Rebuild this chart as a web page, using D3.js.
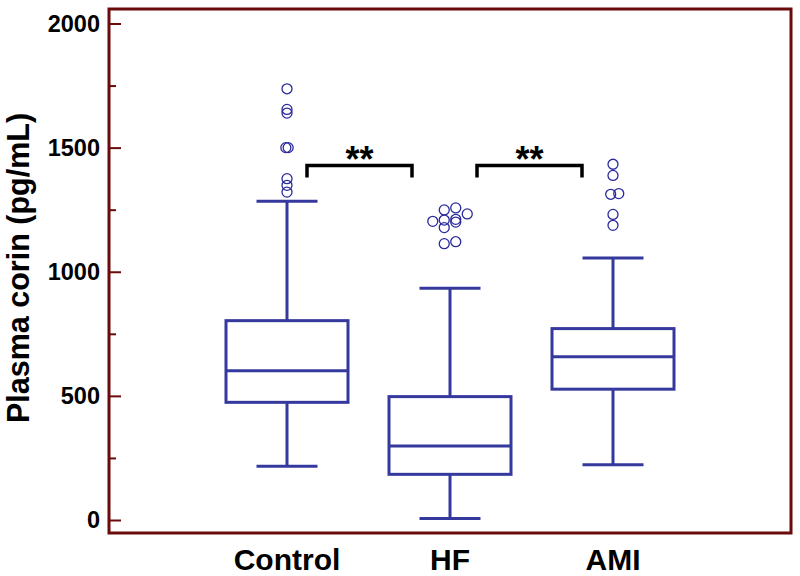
<!DOCTYPE html>
<html>
<head>
<meta charset="utf-8">
<script src="https://cdn.jsdelivr.net/npm/d3@7"></script>
<style>
  body { margin: 0; background: #fff; }
  text { font-family: "Liberation Sans", Arial, sans-serif; font-weight: bold; }
</style>
</head>
<body>
<svg id="chart" width="800" height="576"></svg>
<script>
// groups and box statistics (pg/mL)
const groups = ['Control', 'HF', 'AMI'];
const whiskerLow = [217, 6, 223];
const q1 = [474, 184, 527];
const median = [601, 298, 658];
const q3 = [803, 497, 771];
const whiskerHigh = [1284, 934, 1055];

// outliers per group, with a small horizontal jitter column for overlapping points
const outliers = [
  [1737, 1654, 1639, 1500, 1500, 1375, 1348, 1321],
  [1257, 1249, 1233, 1211, 1208, 1203, 1200, 1178, 1121, 1113],
  [1433, 1388, 1315, 1312, 1231, 1187]
];
const jitter = [
  [0, 0, 0, -0.1, 0.1, 0, 0, 0],
  [0.5, -0.5, 1.5, 0.5, -0.5, -1.5, 0.5, -0.5, 0.5, -0.5],
  [0, 0, 0.5, -0.2, 0, 0]
];

// significance brackets
const comparisons = [['Control', 'HF'], ['HF', 'AMI']];
const sigLabels = ['**', '**'];
const bracketTop = 1428;
const bracketLeg = 1380;

const yTicks = [0, 500, 1000, 1500, 2000];
const yMinor = [250, 750, 1250, 1750];

const svg = d3.select('#chart');
const boxColor = '#35389c';
const frameColor = '#6b0a0a';

const x = d3.scalePoint().domain(groups).range([287, 613]);
const y = d3.scaleLinear().domain([0, 2000]).range([520, 23.5]);
const jx = d3.scaleLinear().domain([0, 1]).range([0, 11.5]);
const boxW = 122;

// frame
svg.append('rect')
  .attr('x', 109).attr('y', 9)
  .attr('width', 682).attr('height', 524)
  .attr('fill', 'none')
  .attr('stroke', frameColor)
  .attr('stroke-width', 3);

// y axis ticks, drawn inside the frame
const yAxis = d3.axisRight(y).tickValues(yTicks).tickSize(12).tickFormat('');
const gy = svg.append('g').attr('transform', 'translate(109,0)').call(yAxis);
gy.select('.domain').remove();
gy.selectAll('line').attr('stroke', frameColor).attr('stroke-width', 2);

const gyMinor = svg.append('g').attr('transform', 'translate(109,0)')
  .call(d3.axisRight(y).tickValues(yMinor).tickSize(7).tickFormat(''));
gyMinor.select('.domain').remove();
gyMinor.selectAll('line').attr('stroke', frameColor).attr('stroke-width', 2);

svg.append('g').selectAll('text')
  .data(yTicks)
  .join('text')
  .attr('x', 100)
  .attr('y', d => y(d))
  .attr('dy', '0.36em')
  .attr('text-anchor', 'end')
  .attr('font-size', 23.5)
  .text(d => d);

// y title
svg.append('text')
  .attr('transform', 'translate(29,268) rotate(-90)')
  .attr('text-anchor', 'middle')
  .attr('font-size', 30.5)
  .text('Plasma corin (pg/mL)');

// x labels
svg.append('g').selectAll('text')
  .data(groups)
  .join('text')
  .attr('x', d => x(d))
  .attr('y', 570)
  .attr('text-anchor', 'middle')
  .attr('font-size', 30)
  .text(d => d);

// boxes
const box = svg.append('g').selectAll('g')
  .data(groups)
  .join('g')
  .attr('fill', 'none')
  .attr('stroke', boxColor)
  .attr('stroke-width', 3);

box.append('line')
  .attr('x1', d => x(d)).attr('x2', d => x(d))
  .attr('y1', (d, i) => y(whiskerHigh[i])).attr('y2', (d, i) => y(q3[i]));
box.append('line')
  .attr('x1', d => x(d)).attr('x2', d => x(d))
  .attr('y1', (d, i) => y(q1[i])).attr('y2', (d, i) => y(whiskerLow[i]));
box.append('line')
  .attr('x1', d => x(d) - boxW / 4).attr('x2', d => x(d) + boxW / 4)
  .attr('y1', (d, i) => y(whiskerHigh[i])).attr('y2', (d, i) => y(whiskerHigh[i]));
box.append('line')
  .attr('x1', d => x(d) - boxW / 4).attr('x2', d => x(d) + boxW / 4)
  .attr('y1', (d, i) => y(whiskerLow[i])).attr('y2', (d, i) => y(whiskerLow[i]));
box.append('rect')
  .attr('x', d => x(d) - boxW / 2)
  .attr('width', boxW)
  .attr('y', (d, i) => y(q3[i]))
  .attr('height', (d, i) => y(q1[i]) - y(q3[i]));
box.append('line')
  .attr('x1', d => x(d) - boxW / 2).attr('x2', d => x(d) + boxW / 2)
  .attr('y1', (d, i) => y(median[i])).attr('y2', (d, i) => y(median[i]));

// outliers
const pts = groups.flatMap((g, i) => outliers[i].map((v, k) => ({ g, v, j: jitter[i][k] })));
svg.append('g').selectAll('circle')
  .data(pts)
  .join('circle')
  .attr('cx', d => x(d.g) + jx(d.j))
  .attr('cy', d => y(d.v))
  .attr('r', 5)
  .attr('fill', 'none')
  .attr('stroke', '#2a2a9c')
  .attr('stroke-width', 1.3);

// significance brackets
const brackets = [[20, -38], [27, -31]];
comparisons.forEach((c, i) => {
  const x1 = x(c[0]) + brackets[i][0];
  const x2 = x(c[1]) + brackets[i][1];
  svg.append('path')
    .attr('d', `M${x1},${y(bracketLeg)}V${y(bracketTop)}H${x2}V${y(bracketLeg)}`)
    .attr('fill', 'none')
    .attr('stroke', '#000')
    .attr('stroke-width', 3.5);
  svg.append('text')
    .attr('x', (x1 + x2) / 2)
    .attr('y', y(bracketTop) + 7)
    .attr('text-anchor', 'middle')
    .attr('font-size', 36)
    .text(sigLabels[i]);
});
</script>
</body>
</html>
